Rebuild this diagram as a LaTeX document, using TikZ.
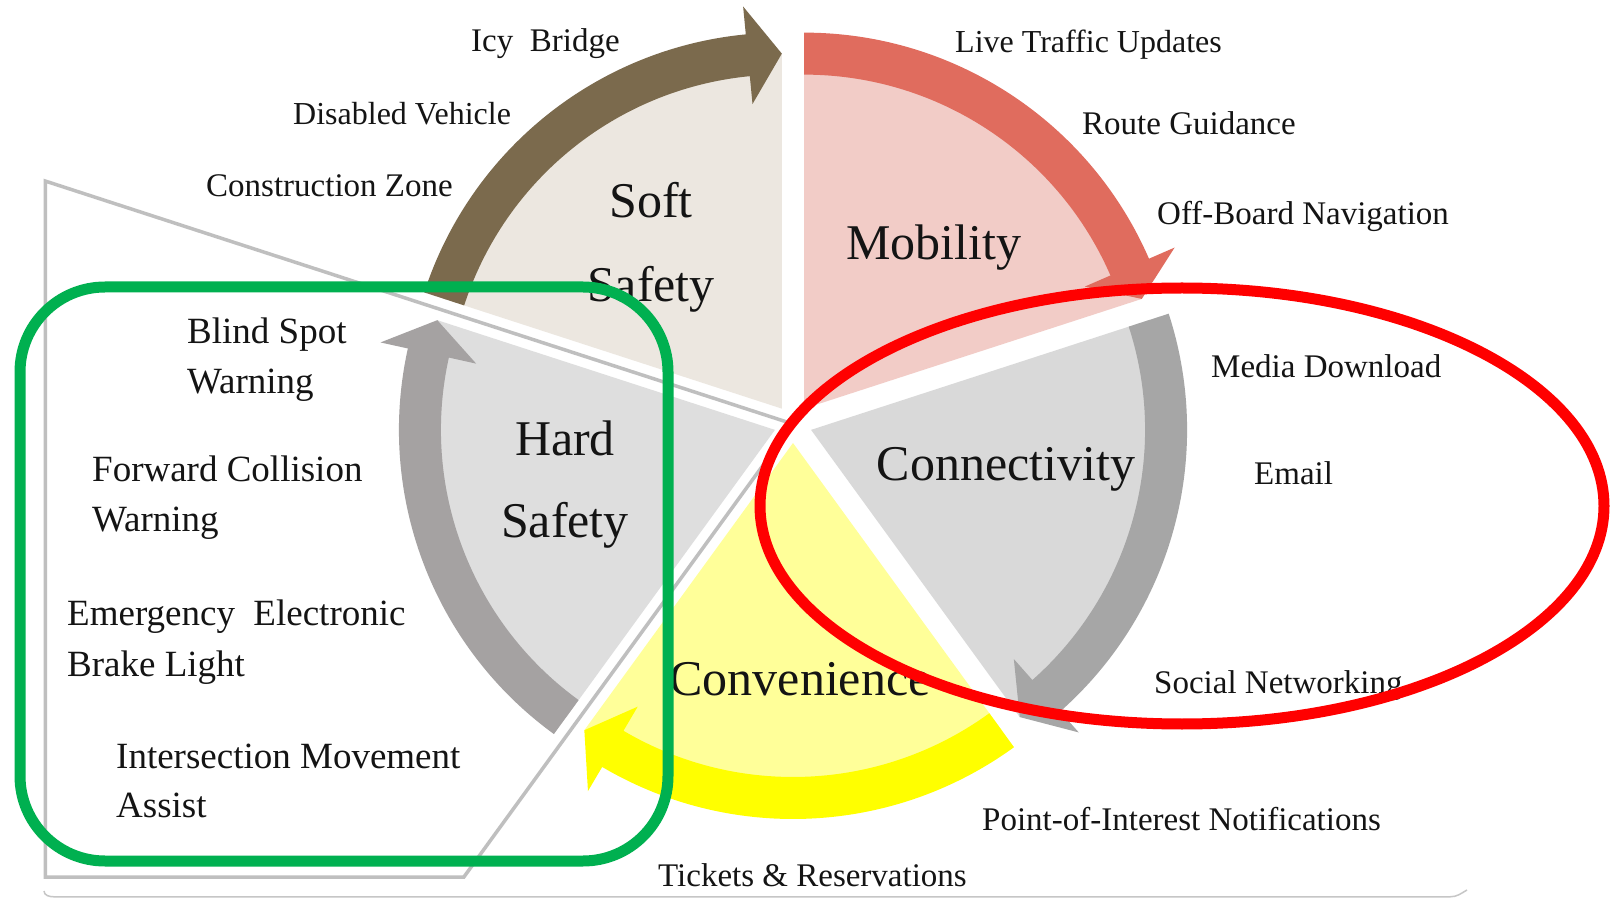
\documentclass[tikz,border=0pt]{standalone}
\usepackage{fontspec}
\setmainfont{Liberation Serif}
\usetikzlibrary{calc}
\definecolor{softfill}{RGB}{236,231,224}
\definecolor{softarr}{RGB}{123,106,77}
\definecolor{mobfill}{RGB}{242,204,199}
\definecolor{mobarr}{RGB}{224,108,94}
\definecolor{confill}{RGB}{217,217,217}
\definecolor{conarr}{RGB}{166,166,166}
\definecolor{cvfill}{RGB}{255,255,153}
\definecolor{cvarr}{RGB}{255,255,0}
\definecolor{hardfill}{RGB}{222,222,222}
\definecolor{hardarr}{RGB}{165,162,162}
\definecolor{calloutgray}{RGB}{191,191,191}
\definecolor{hlgreen}{RGB}{0,176,80}
\definecolor{txt}{RGB}{20,20,20}
\newcommand{\segslice}[4]{\fill[#4] (#1) -- ($(#1)+(#2:355)$) arc[start angle=#2, end angle=#3, radius=355] -- cycle;}
\newcommand{\segarrow}[4]{%
  \pgfmathsetmacro{\hb}{#3+5.5}%
  \fill[#4] ($(#1)+(#2:376)$) arc[start angle=#2, end angle=\hb, radius=376]
    -- ($(#1)+(\hb:404)$) -- ($(#1)+(#3:355)$) -- ($(#1)+(\hb:306)$)
    -- ($(#1)+(\hb:334)$) arc[start angle=\hb, end angle=#2, radius=334] -- cycle;}
\tikzset{
  lab/.style={font=\fontsize{33}{40}\selectfont, text=txt, anchor=base west, inner sep=0pt},
  llab/.style={font=\fontsize{37}{44}\selectfont, text=txt, anchor=base west, inner sep=0pt},
  big/.style={font=\fontsize{50}{60}\selectfont, text=txt, anchor=base, inner sep=0pt},
  callout/.style={draw=calloutgray, line width=3.5pt, line join=miter},
  greenbox/.style={draw=hlgreen, line width=11pt, rounded corners=85pt},
  redring/.style={draw=red, line width=11pt}
}
\begin{document}
\begin{tikzpicture}[x=1pt,y=1pt]
\useasboundingbox (0,0) rectangle (1612,898);
\fill[white] (0,0) rectangle (1612,898);
% centre and apexes
\coordinate (C) at (793,474);
\coordinate (S) at ($(C)+(126:19)$);
\coordinate (M) at ($(C)+(54:19)$);
\coordinate (N) at ($(C)+(-18:19)$);
\coordinate (V) at ($(C)+(-90:19)$);
\coordinate (H) at ($(C)+(198:19)$);
% bottom frame line
\draw[gray!45, line width=1.5pt] (44,7) to[out=-90,in=180] (54,1.2) -- (1450,1.2) to[out=0,in=-150] (1467,8);
% callout
\coordinate (P1) at ($(C)+(162:786)$);
\coordinate (P2) at ($(C)+(234:560)$);
\draw[callout] (P1) -- (C) -- (P2) -- (P2 -| P1) -- cycle;
% slices
\segslice{S}{162}{90}{softfill}
\segslice{M}{90}{18}{mobfill}
\segslice{N}{18}{-54}{confill}
\segslice{V}{-54}{-126}{cvfill}
\segslice{H}{234}{162}{hardfill}
% arrows
\segarrow{S}{162}{90}{softarr}
\segarrow{M}{90}{18}{mobarr}
\segarrow{N}{18}{-54}{conarr}
\segarrow{V}{-54}{-126}{cvarr}
\segarrow{H}{234}{162}{hardarr}
% slice labels
\node[big] (soft1) at (651,680) {Soft};
\node[big] (soft2) at (651,596) {Safety};
\node[big] (mob) at (934,638) {Mobility};
\node[big] (hard1) at (565,442) {Hard};
\node[big] (hard2) at (565,360) {Safety};
\node[big] (conn) at (1006,417) {Connectivity};
\node[big] (conv) at (800,203) {Convenience};
% outer labels
\node[lab] (icy) at (471,846) {Icy\ \ Bridge};
\node[lab, font=\fontsize{32}{40}\selectfont] (dis) at (293,773) {Disabled Vehicle};
\node[lab] (cons) at (206,701) {Construction Zone};
\node[lab, font=\fontsize{32}{40}\selectfont] (live) at (955,845) {Live Traffic Updates};
\node[lab] (route) at (1082,763) {Route Guidance};
\node[lab] (off) at (1157,673) {Off-Board Navigation};
\node[lab] (media) at (1211,520) {Media Download};
\node[lab] (email) at (1254,413) {Email};
\node[lab] (social) at (1154,205) {Social Networking};
\node[lab] (poi) at (982,68) {Point-of-Interest Notifications};
\node[lab] (tix) at (658,12) {Tickets \& Reservations};
\node[llab] (bs1) at (187,554) {Blind Spot};
\node[llab] (bs2) at (187,504) {Warning};
\node[llab] (fc1) at (92,416) {Forward Collision};
\node[llab] (fc2) at (92,366) {Warning};
\node[llab] (eb1) at (67,273) {Emergency\ \ Electronic};
\node[llab] (eb2) at (67,222) {Brake Light};
\node[llab] (im1) at (116,130) {Intersection Movement};
\node[llab] (im2) at (116,81) {Assist};
% highlight outlines
\draw[greenbox] (20,611) rectangle (668,37);
\draw[redring] (1182,392) ellipse [x radius=422, y radius=218];
\end{tikzpicture}
\end{document}
